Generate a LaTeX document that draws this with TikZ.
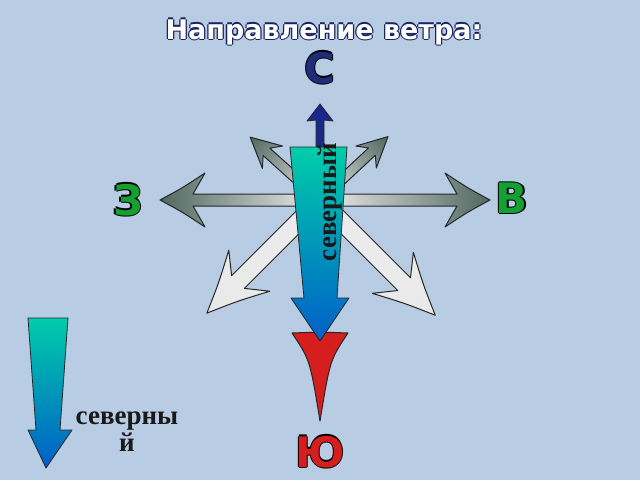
\documentclass[tikz,border=0pt]{standalone}
\usepackage{fontspec}
\setmainfont{Liberation Serif}
\newfontfamily\lettf{DejaVu Sans}
\begin{document}
\begin{tikzpicture}[x=1pt,y=-1pt,
  dirarrow/.style={draw=black!85,line width=1pt,line join=round},
  bigletter/.style={font=\lettf\bfseries\fontsize{42}{42}\selectfont,draw=none,inner sep=0pt},
  lbl/.style={font=\bfseries\fontsize{27}{27}\selectfont,text=black!90,inner sep=1pt}]
\definecolor{bg}{RGB}{184,204,228}
\definecolor{darkg}{RGB}{80,104,96}
\definecolor{lightg}{RGB}{232,234,232}
\definecolor{teal1}{RGB}{0,205,170}
\definecolor{blue1}{RGB}{0,95,200}
\definecolor{redA}{RGB}{215,30,30}
\definecolor{navy}{RGB}{30,45,120}
\definecolor{greenL}{RGB}{20,160,50}
\fill[bg] (0,0) rectangle (640,480);
\useasboundingbox (0,0) rectangle (640,480);
\newcommand{\compassarrow}[7]{% angle, length, halfwidth, barb, colour, headlen, notch
\begin{scope}[transform canvas={shift={(320,200)},rotate=#1}]
\path[dirarrow,left color=white!85!gray,right color=#5]
 (0,-#3) -- (#2-#7,-#3) -- (#2-#6,-#4) .. controls (#2-#6*0.5,-#4*0.45) .. (#2,0)
 .. controls (#2-#6*0.5,#4*0.45) .. (#2-#6,#4) -- (#2-#7,#3) -- (0,#3) -- cycle;
\end{scope}}
\compassarrow{180}{160}{6}{27}{darkg}{45}{33}
\compassarrow{0}{170}{6}{27}{darkg}{45}{33}
\compassarrow{138}{94}{5}{15}{darkg}{30}{22}
\compassarrow{43}{93}{5}{15}{darkg}{30}{22}
\compassarrow{-135}{160}{9}{29}{lightg}{60}{44}
\compassarrow{-45}{163}{9}{29}{lightg}{60}{44}
% north small arrow
\path[dirarrow,top color=navy!80!blue,bottom color=navy,line width=0.8pt]
 (316,150) -- (316,120) -- (307,121) -- (320,104) -- (333,121) -- (324,120) -- (324,150) -- cycle;
% south red arrow
\path[dirarrow,fill=redA]
 (320,332) -- (348,333) .. controls (330,360) .. (320,421) .. controls (310,360) .. (292,333) -- cycle;
% central gradient arrow
\path[dirarrow,line width=0.8pt,top color=teal1,bottom color=blue1]
 (290,147) -- (347,147) -- (337,298) -- (349,298) -- (320,341) -- (291,298) -- (304,298) -- cycle;
\node[lbl,rotate=90,anchor=east] (cn) at (330,142) {северный};
% legend arrow
\path[dirarrow,line width=0.8pt,top color=teal1,bottom color=blue1]
 (28,318) -- (68,318) -- (60,430) -- (72,430) -- (46,468) -- (28,430) -- (36,430) -- cycle;
\node[lbl,align=center] (leg) at (127,432) {северны\\й};
% letters
\foreach \dx/\dy in {-1.3/0,1.3/0,0/-1.3,0/1.3}{
\node[bigletter,text=black] at (320+\dx,68+\dy) {С};
\node[bigletter,text=black] at (128+\dx,200+\dy) {З};
\node[bigletter,text=black] at (512+\dx,198+\dy) {В};
\node[bigletter,text=black] at (320+\dx,452+\dy) {Ю};
\node[font=\lettf\bfseries\fontsize{27}{28}\selectfont,text=navy!80!black] at (324+\dx,32+\dy) {Направление ветра:};
}
\node[bigletter,text=navy] (N) at (320,68) {С};
\node[bigletter,text=greenL] (W) at (128,200) {З};
\node[bigletter,text=greenL] (E) at (512,198) {В};
\node[bigletter,text=redA] (S) at (320,452) {Ю};
\node[font=\lettf\bfseries\fontsize{27}{28}\selectfont,text=white] (title) at (324,32) {Направление ветра:};
\end{tikzpicture}
\end{document}
